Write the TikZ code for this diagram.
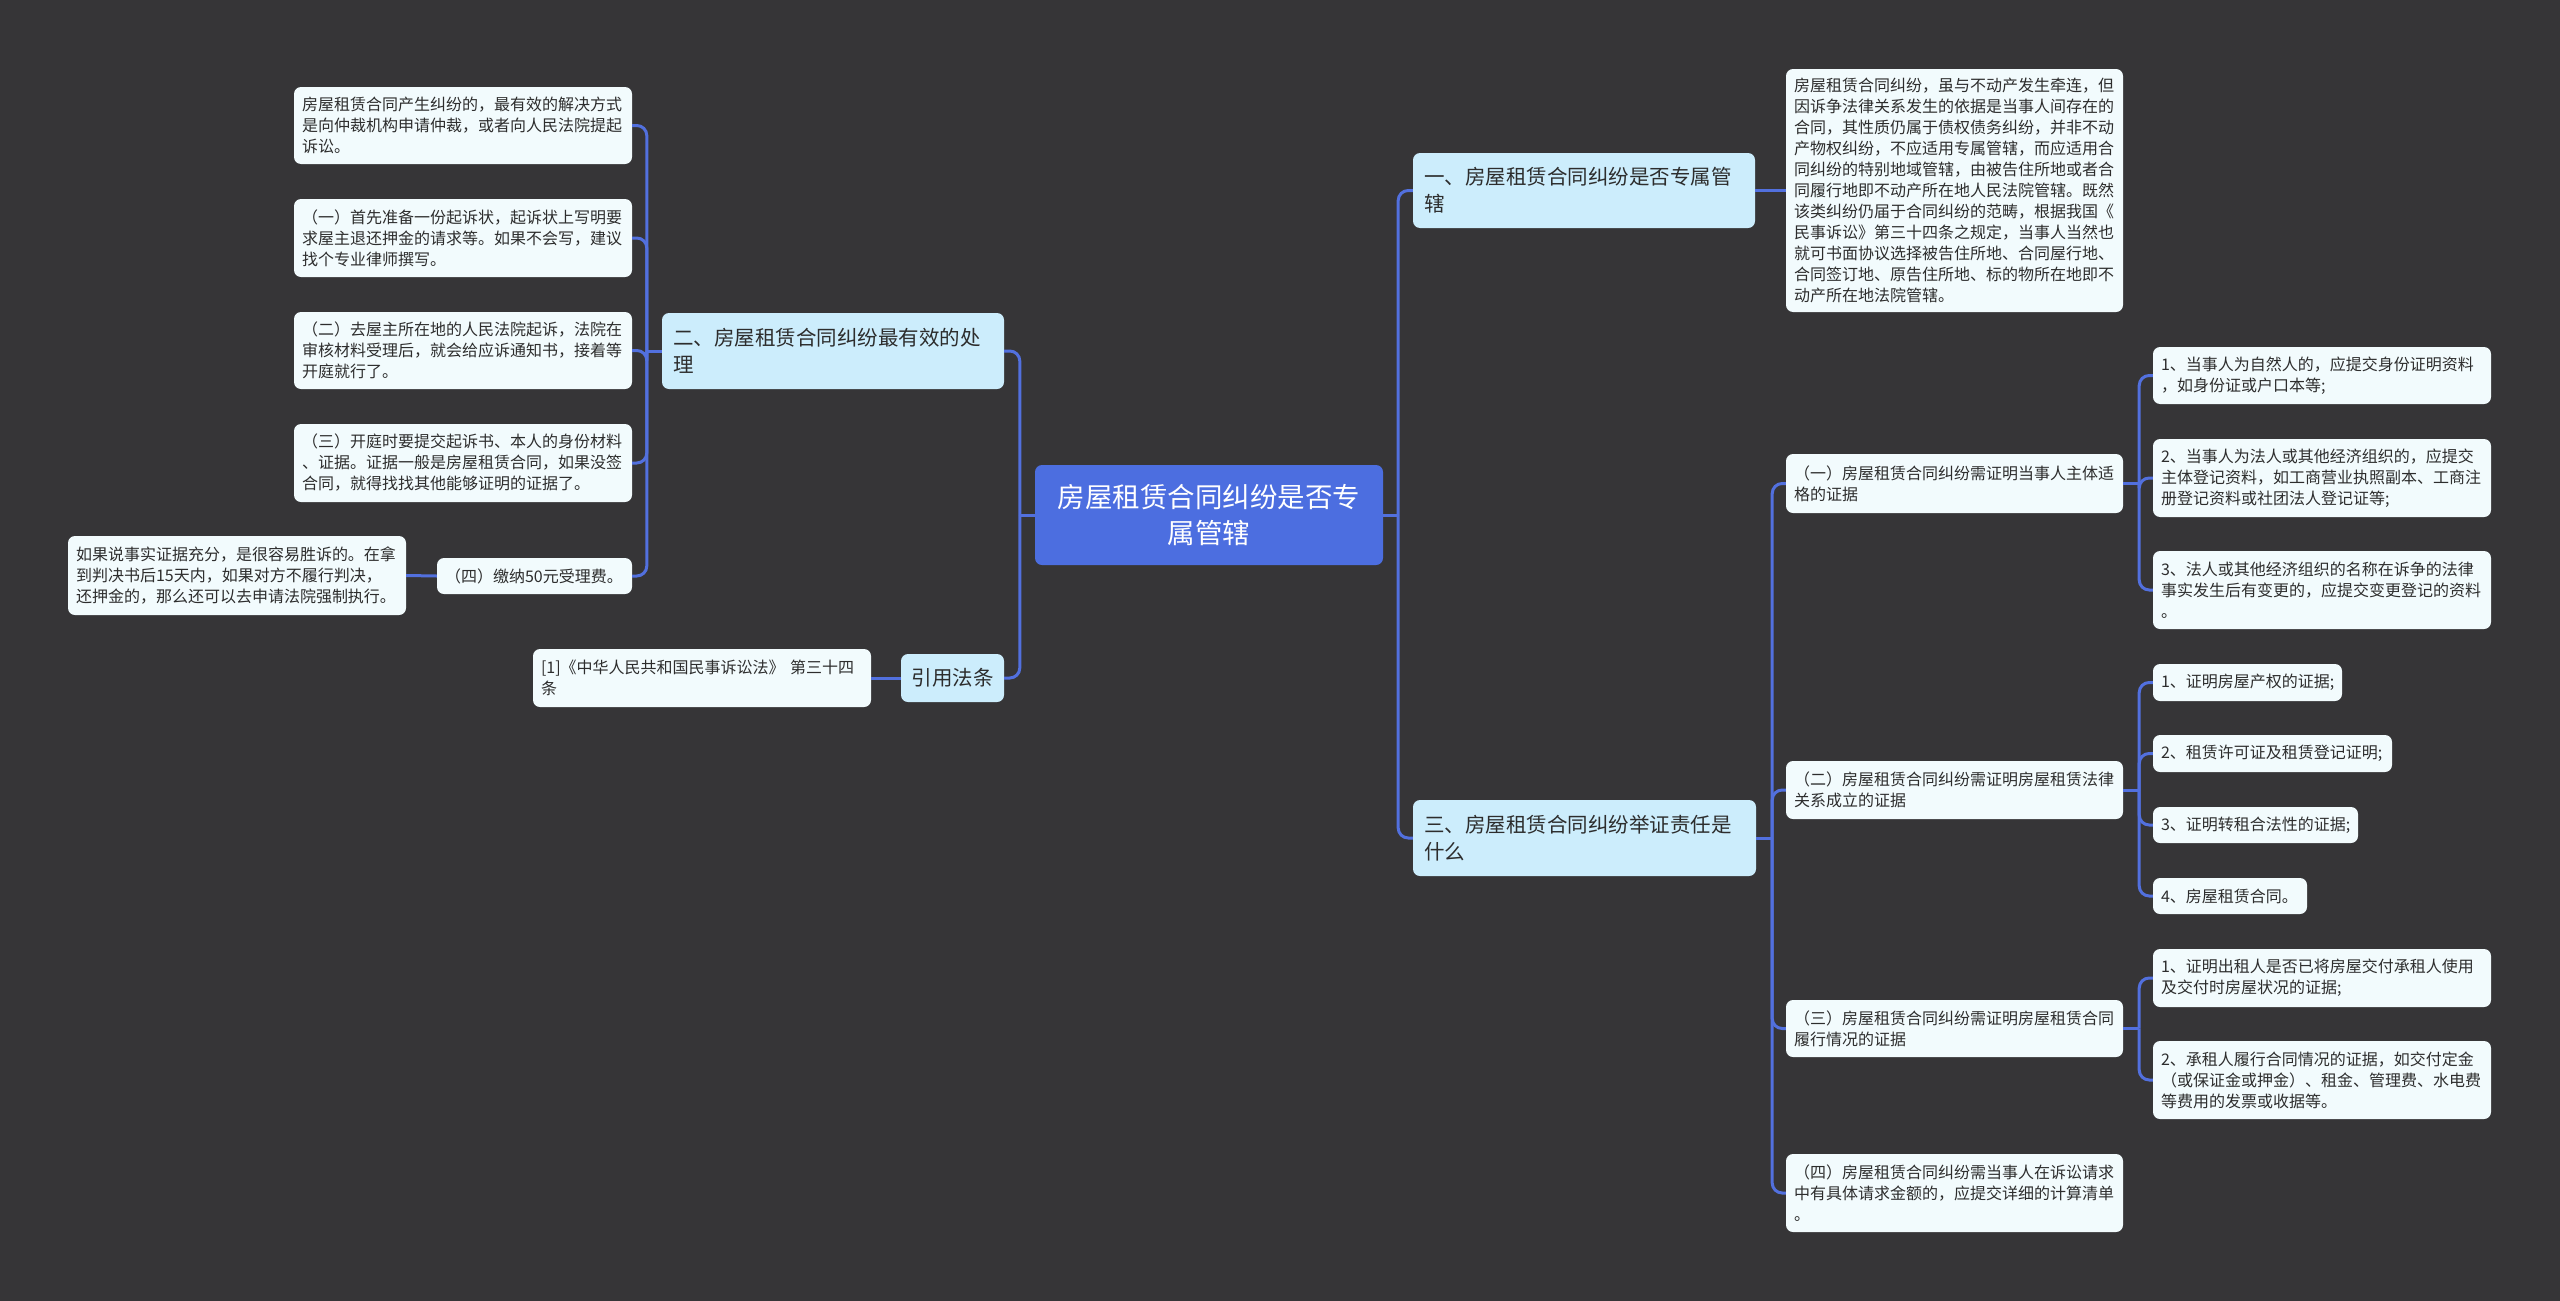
\documentclass[tikz,border=0pt]{standalone}
\usepackage{fontspec}
\setmainfont{Noto Sans CJK SC}
\definecolor{bg}{RGB}{54,53,55}
\definecolor{rootc}{RGB}{76,110,224}
\definecolor{linec}{RGB}{82,112,222}
\definecolor{brc}{RGB}{204,237,252}
\definecolor{leafc}{RGB}{242,251,253}
\definecolor{txt}{RGB}{45,45,45}
\tikzset{
  base/.style={rounded corners=7pt, inner sep=0pt, align=left, text=txt},
  rootbox/.style={base, fill=rootc, text=white, align=center, font=\fontsize{27.5}{36}\selectfont},
  brbox/.style={base, fill=brc, font=\fontsize{20.5}{27}\selectfont},
  leafbox/.style={base, fill=leafc, font=\fontsize{16}{21}\selectfont},
  conn/.style={draw=linec, line width=3pt, rounded corners=10pt},
}
% style, name, x1, y1, x2, y2, total padding, text
\newcommand\boxnode[8]{\node[#1, minimum width=#5pt-#3pt, minimum height=#6pt-#4pt, text width=#5pt-#3pt-#7pt] (#2) at ({(#3+#5)/2},{(#4+#6)/2}) {#8};}
% style, name, x1, y1, x2, y2, text (natural width, centred)
\newcommand\cboxnode[7]{\node[#1, minimum width=#5pt-#3pt, minimum height=#6pt-#4pt] (#2) at ({(#3+#5)/2},{(#4+#6)/2}) {#7};}
\begin{document}
\begin{tikzpicture}[x=1pt,y=-1pt]
\useasboundingbox (0,0) rectangle (2560,1301);
\fill[bg] (0,0) rectangle (2560,1301);

% root
\cboxnode{rootbox}{root}{1035}{465}{1383}{565}{房屋租赁合同纠纷是否专\\属管辖}

% left side
\boxnode{brbox}{B2}{662}{313}{1004}{389}{22}{二、房屋租赁合同纠纷最有效的处\\理}
\cboxnode{brbox}{B4}{901}{654}{1004}{702}{引用法条}
\boxnode{leafbox}{L1}{294}{87}{632}{164}{16}{房屋租赁合同产生纠纷的，最有效的解决方式\\是向仲裁机构申请仲裁，或者向人民法院提起\\诉讼。}
\boxnode{leafbox}{L2}{294}{199}{632}{277}{16}{（一）首先准备一份起诉状，起诉状上写明要\\求屋主退还押金的请求等。如果不会写，建议\\找个专业律师撰写。}
\boxnode{leafbox}{L3}{294}{312}{632}{389}{16}{（二）去屋主所在地的人民法院起诉，法院在\\审核材料受理后，就会给应诉通知书，接着等\\开庭就行了。}
\boxnode{leafbox}{L4}{294}{424}{632}{502}{16}{（三）开庭时要提交起诉书、本人的身份材料\\、证据。证据一般是房屋租赁合同，如果没签\\合同，就得找找其他能够证明的证据了。}
\boxnode{leafbox}{L5}{437}{558}{632}{594}{16}{（四）缴纳50元受理费。}
\boxnode{leafbox}{L5c}{68}{536}{406}{615}{16}{如果说事实证据充分，是很容易胜诉的。在拿\\到判决书后15天内，如果对方不履行判决，\\还押金的，那么还可以去申请法院强制执行。}
\boxnode{leafbox}{cite}{533}{649}{871}{707}{16}{[1]《中华人民共和国民事诉讼法》 第三十四\\条}

% right side
\boxnode{brbox}{B1}{1413}{153}{1755}{228}{22}{一、房屋租赁合同纠纷是否专属管\\辖}
\boxnode{leafbox}{D1}{1786}{69}{2123}{312}{16}{房屋租赁合同纠纷，虽与不动产发生牵连，但\\因诉争法律关系发生的依据是当事人间存在的\\合同，其性质仍属于债权债务纠纷，并非不动\\产物权纠纷，不应适用专属管辖，而应适用合\\同纠纷的特别地域管辖，由被告住所地或者合\\同履行地即不动产所在地人民法院管辖。既然\\该类纠纷仍届于合同纠纷的范畴，根据我国《\\民事诉讼》第三十四条之规定，当事人当然也\\就可书面协议选择被告住所地、合同屋行地、\\合同签订地、原告住所地、标的物所在地即不\\动产所在地法院管辖。}
\boxnode{brbox}{B3}{1413}{800}{1756}{876}{22}{三、房屋租赁合同纠纷举证责任是\\什么}
\boxnode{leafbox}{S1}{1786}{454}{2123}{513}{16}{（一）房屋租赁合同纠纷需证明当事人主体适\\格的证据}
\boxnode{leafbox}{S1a}{2153}{347}{2491}{404}{16}{1、当事人为自然人的，应提交身份证明资料\\，如身份证或户口本等;}
\boxnode{leafbox}{S1b}{2153}{439}{2491}{517}{16}{2、当事人为法人或其他经济组织的，应提交\\主体登记资料，如工商营业执照副本、工商注\\册登记资料或社团法人登记证等;}
\boxnode{leafbox}{S1c}{2153}{551}{2491}{629}{16}{3、法人或其他经济组织的名称在诉争的法律\\事实发生后有变更的，应提交变更登记的资料\\。}
\boxnode{leafbox}{S2}{1786}{761}{2123}{819}{16}{（二）房屋租赁合同纠纷需证明房屋租赁法律\\关系成立的证据}
\boxnode{leafbox}{S2a}{2153}{664}{2342}{701}{16}{1、证明房屋产权的证据;}
\boxnode{leafbox}{S2b}{2153}{735}{2392}{772}{16}{2、租赁许可证及租赁登记证明;}
\boxnode{leafbox}{S2c}{2153}{807}{2358}{843}{16}{3、证明转租合法性的证据;}
\boxnode{leafbox}{S2d}{2153}{878}{2307}{914}{16}{4、房屋租赁合同。}
\boxnode{leafbox}{S3}{1786}{1000}{2123}{1057}{16}{（三）房屋租赁合同纠纷需证明房屋租赁合同\\履行情况的证据}
\boxnode{leafbox}{S3a}{2153}{949}{2491}{1007}{16}{1、证明出租人是否已将房屋交付承租人使用\\及交付时房屋状况的证据;}
\boxnode{leafbox}{S3b}{2153}{1041}{2491}{1119}{16}{2、承租人履行合同情况的证据，如交付定金\\（或保证金或押金）、租金、管理费、水电费\\等费用的发票或收据等。}
\boxnode{leafbox}{S4}{1786}{1154}{2123}{1232}{16}{（四）房屋租赁合同纠纷需当事人在诉讼请求\\中有具体请求金额的，应提交详细的计算清单\\。}

% trunk points
\coordinate (rR) at ([xshift=15pt]root.east);
\coordinate (rL) at ([xshift=-15pt]root.west);
\coordinate (b2L) at ([xshift=-15pt]B2.west);
\coordinate (b3R) at ([xshift=16pt]B3.east);
\coordinate (s1R) at ([xshift=16pt]S1.east);
\coordinate (s2R) at ([xshift=16pt]S2.east);
\coordinate (s3R) at ([xshift=16pt]S3.east);

% connectors
\draw[conn] (root.east) -- (rR);
\draw[conn] (rR) |- (B1.west);
\draw[conn] (rR) |- (B3.west);
\draw[conn] (root.west) -- (rL);
\draw[conn] (rL) |- (B2.east);
\draw[conn] (rL) |- (B4.east);
\draw[conn] (B2.west) -- (b2L);
\foreach \c in {L1,L2,L3,L4,L5} \draw[conn] (b2L) |- (\c.east);
\draw[conn] (L5.west) -- (L5c.east);
\draw[conn] (B4.west) -- (cite.east);
\draw[conn] (B1.east) -- (D1.west);
\draw[conn] (B3.east) -- (b3R);
\foreach \c in {S1,S2,S3,S4} \draw[conn] (b3R) |- (\c.west);
\draw[conn] (S1.east) -- (s1R);
\foreach \c in {S1a,S1b,S1c} \draw[conn] (s1R) |- (\c.west);
\draw[conn] (S2.east) -- (s2R);
\foreach \c in {S2a,S2b,S2c,S2d} \draw[conn] (s2R) |- (\c.west);
\draw[conn] (S3.east) -- (s3R);
\foreach \c in {S3a,S3b} \draw[conn] (s3R) |- (\c.west);
\end{tikzpicture}
\end{document}
